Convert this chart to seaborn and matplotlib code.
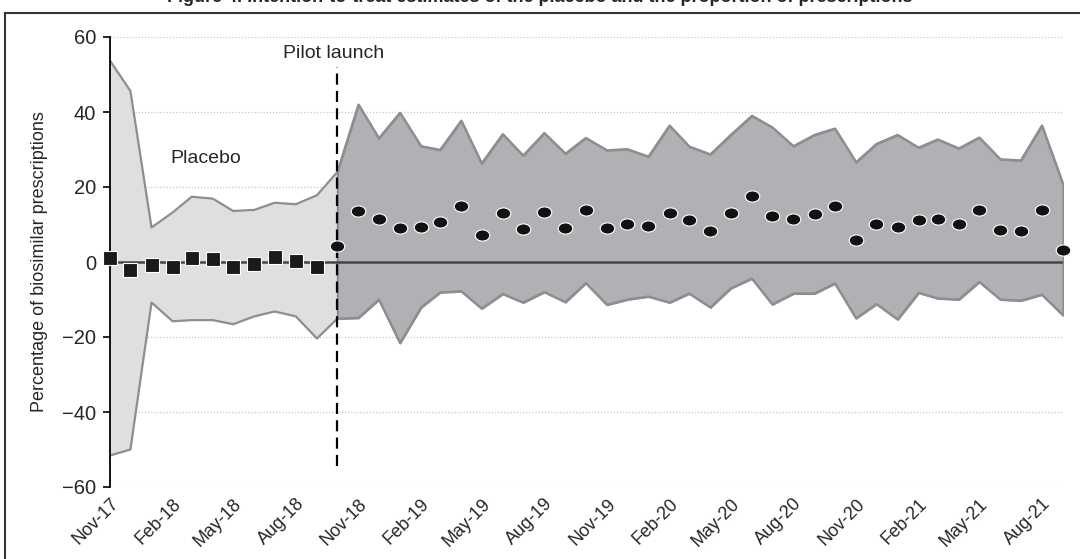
import numpy as np
import pandas as pd
import matplotlib
matplotlib.use("Agg")
import matplotlib.pyplot as plt
from matplotlib.path import Path
from matplotlib.transforms import Affine2D
from matplotlib.patches import Rectangle
import seaborn as sns

# ---------------- data ----------------
months = pd.date_range("2017-11-01", "2021-09-01", freq="MS")  # 47 months

# placebo period point estimates (Nov-17 .. Sep-18)
placebo_est = [1.0, -2.2, -0.8, -1.4, 1.0, 0.8, -1.4, -0.4, 1.3, 0.4, -1.2]
# pilot period point estimates (Oct-18 .. Sep-21)
pilot_est = [4.4, 13.6, 11.4, 9.2, 9.4, 10.8, 15.0, 7.1, 13.0, 8.7, 13.3, 9.2,
             13.8, 9.2, 10.2, 9.5, 13.0, 11.3, 8.4, 13.2, 17.5, 12.4, 11.4, 12.8,
             15.0, 5.9, 10.2, 9.3, 11.1, 11.6, 10.2, 14.0, 8.6, 8.4, 13.9, 3.2]

# confidence band, all 47 months
upper = [53.7, 45.6, 9.2, 13.2, 17.4, 16.9, 13.6, 13.9, 15.8, 15.4, 17.8,
         24.0, 42.0, 33.0, 39.8, 30.9, 29.9, 37.7, 26.3, 34.1, 28.4, 34.4, 28.9,
         33.1, 29.8, 30.1, 28.1, 36.4, 30.8, 28.7, 33.9, 39.0, 35.9, 30.9, 33.9,
         35.6, 26.6, 31.5, 33.9, 30.5, 32.7, 30.3, 33.2, 27.4, 27.1, 36.4, 20.8]
lower = [-51.6, -50.0, -10.8, -15.8, -15.5, -15.5, -16.6, -14.5, -13.2, -14.5, -20.4,
         -15.1, -14.9, -10.0, -21.6, -12.1, -8.1, -7.8, -12.4, -8.5, -10.8, -8.0, -10.7,
         -5.6, -11.4, -10.0, -9.2, -10.8, -8.4, -12.1, -7.0, -4.4, -11.3, -8.4, -8.4,
         -5.7, -15.0, -11.2, -15.3, -8.2, -9.7, -10.0, -5.3, -10.0, -10.3, -8.7, -14.2]

tick_labels = ["Nov-17", "Feb-18", "May-18", "Aug-18", "Nov-18", "Feb-19", "May-19",
               "Aug-19", "Nov-19", "Feb-20", "May-20", "Aug-20", "Nov-20", "Feb-21",
               "May-21", "Aug-21"]
y_ticks = [-60, -40, -20, 0, 20, 40, 60]
y_tick_labels = ["\u221260", "\u221240", "\u221220", "0", "20", "40", "60"]
launch_month = pd.Timestamp("2018-10-01")

n_placebo = len(placebo_est)
df = pd.DataFrame({"month": months, "upper": upper, "lower": lower})
df_placebo = pd.DataFrame({"month": months[:n_placebo], "est": placebo_est})
df_pilot = pd.DataFrame({"month": months[n_placebo:], "est": pilot_est})

# ---------------- style ----------------
sns.set_theme(style="white")
FONT = ["Liberation Sans Narrow", "Liberation Sans", "DejaVu Sans"]
plt.rcParams["font.family"] = FONT

W, H = 1080, 559
fig = plt.figure(figsize=(W / 100, H / 100), dpi=100)
ax = fig.add_axes([110 / W, 1 - 487 / H, (1063 - 110) / W, (487 - 37) / H])

light = "#dfdfe1"
dark = "#b1b0b5"
edge = "#8e8e8e"

# bands
pl = df.iloc[: n_placebo + 1]
pi = df.iloc[n_placebo:]
ax.fill_between(pl["month"], pl["lower"], pl["upper"], color=light, lw=0, zorder=1)
ax.fill_between(pi["month"], pi["lower"], pi["upper"], facecolor=dark,
                edgecolor=edge, lw=1.5, zorder=1.2)
sns.lineplot(data=df, x="month", y="upper", color=edge, lw=1.6, ax=ax, zorder=2)
sns.lineplot(data=df, x="month", y="lower", color=edge, lw=1.6, ax=ax, zorder=2)

# zero line
ax.axhline(0, color="#454545", lw=1.8, zorder=3)

# launch line
ax.vlines(launch_month, -54.5, 52, colors="black", lw=1.6,
          linestyles=(0, (5, 2.8)), zorder=5)

# markers
ell = Path.unit_circle().transformed(Affine2D().scale(1.3, 1.0))
sns.scatterplot(data=df_placebo, x="month", y="est", marker="s", s=95,
                color="#1a1a1a", edgecolor="white", linewidth=0.8, ax=ax,
                zorder=6, clip_on=False)
sns.scatterplot(data=df_pilot, x="month", y="est", marker=ell, s=110,
                color="#111111", edgecolor="white", linewidth=0.8, ax=ax,
                zorder=6, clip_on=False)

# axes limits & grid
ax.set_xlim(months[0], months[-1])
ax.set_ylim(-60, 60)
ax.set_yticks(y_ticks)
ax.set_yticklabels(y_tick_labels)
ax.yaxis.grid(True, color="#c8c8c8", ls=(0, (1, 1.5)), lw=0.9)
ax.xaxis.grid(False)
ax.set_axisbelow(True)

tick_dates = list(pd.to_datetime(tick_labels, format="%b-%y"))
ax.set_xticks(tick_dates)
ax.set_xticklabels(tick_labels, rotation=45, ha="right", rotation_mode="anchor",
                   fontsize=13)
ax.tick_params(axis="x", length=0, pad=6)
ax.tick_params(axis="y", direction="out", length=5, width=1.2, color="black",
               labelsize=14.5, pad=5, left=True)

for s in ["top", "right", "bottom"]:
    ax.spines[s].set_visible(False)
ax.spines["left"].set_color("black")
ax.spines["left"].set_linewidth(1.3)

# ticks along the zero line
sec = ax.secondary_xaxis(0.5)
sec.set_xticks(tick_dates)
sec.tick_params(axis="x", direction="out", length=4, width=1.2, color="#454545",
                labelbottom=False)
sec.set_xticklabels([])
sec.spines["bottom"].set_visible(False)

ax.set_xlabel("")
ax.set_ylabel("Percentage of biosimilar prescriptions", fontsize=13, labelpad=10)

# annotations
ax.text(pd.Timestamp("2018-09-25"), 55.5, "Pilot launch", fontsize=14,
        ha="center", va="center", zorder=7)
ax.text(pd.Timestamp("2018-03-22"), 27.5, "Placebo", fontsize=14,
        ha="center", va="center", zorder=7)

# title (clipped at the top of the image, as in the reference) and frame
fig.text(0.5, 1.004, "Figure 4. Intention-to-treat estimates of the placebo and the proportion of prescriptions",
         ha="center", va="center", fontsize=13, fontweight="bold")
fig.patches.append(Rectangle((5 / W, -0.05), 1.2, 1 - 13 / H + 0.05,
                             transform=fig.transFigure, fill=False,
                             edgecolor="#333333", lw=1.5))

fig.savefig("out.png", dpi=100)
